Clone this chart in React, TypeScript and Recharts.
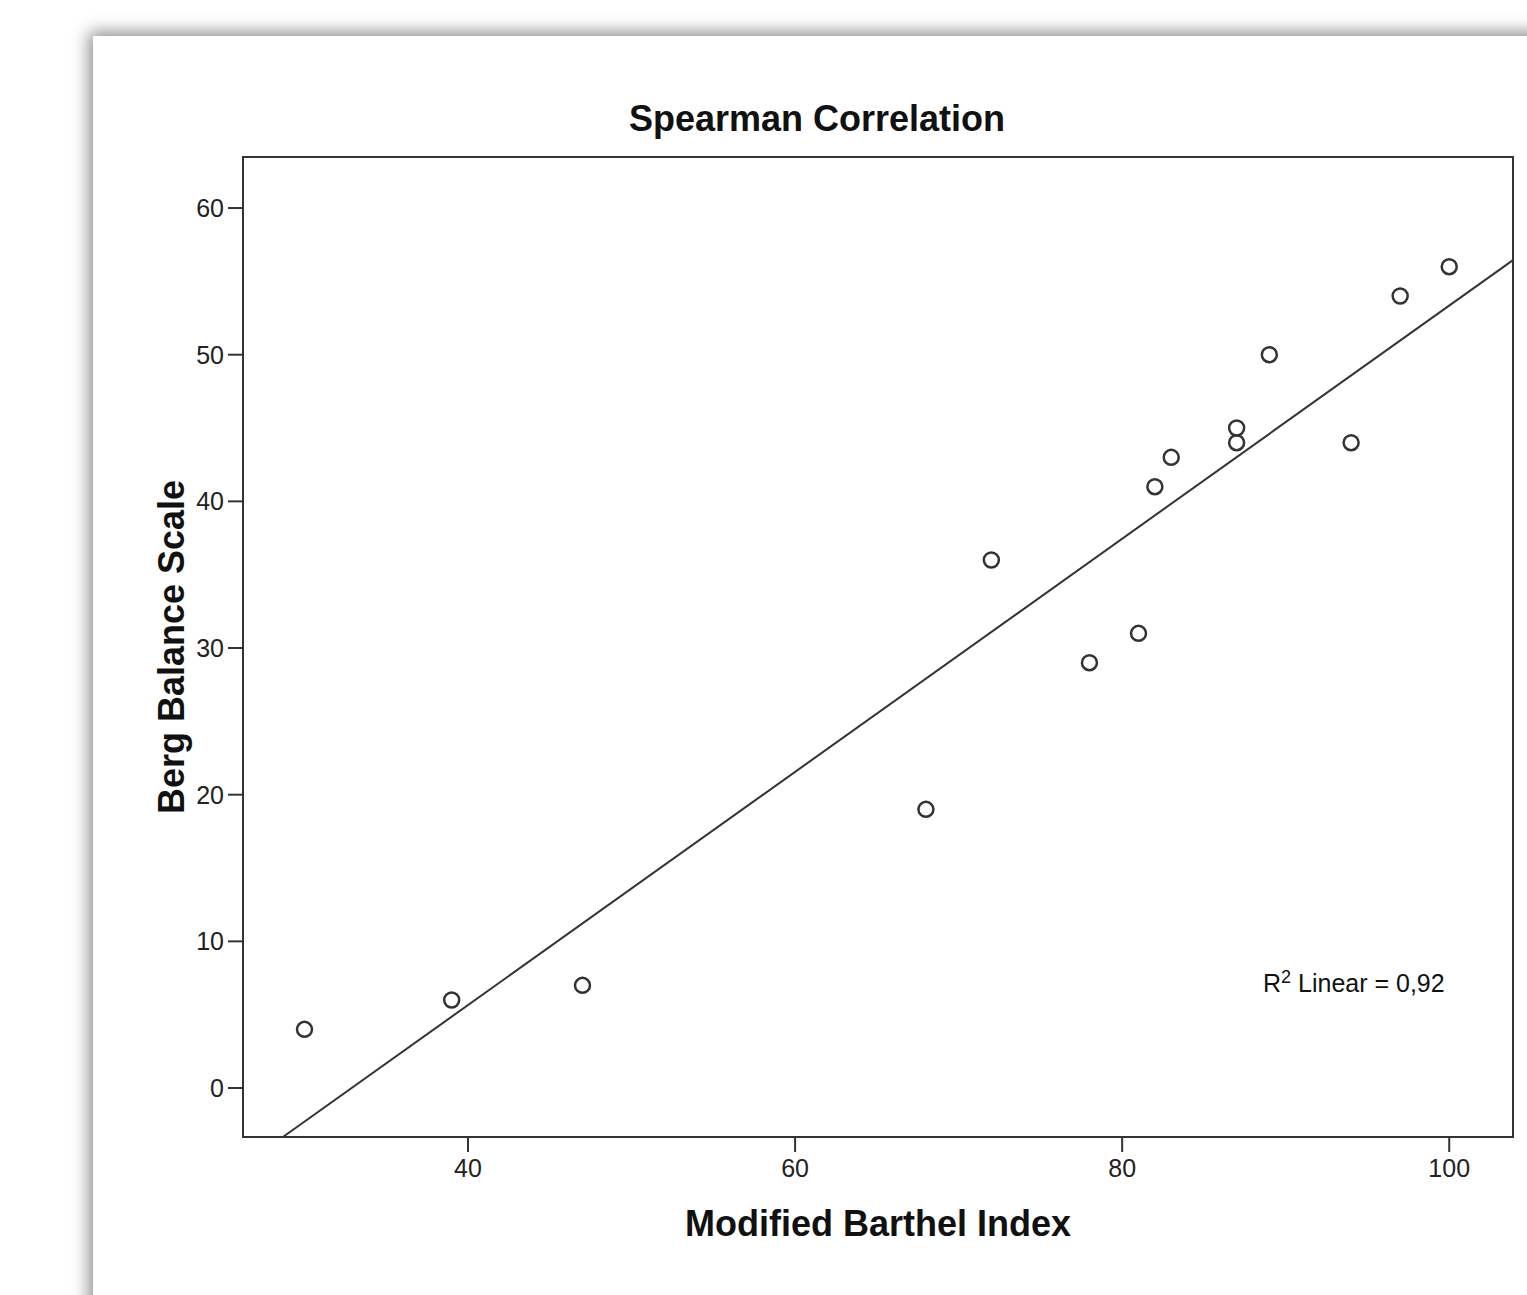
import React from 'react';
import { ScatterChart, Scatter, XAxis, YAxis, ReferenceLine, ReferenceArea, Label } from 'recharts';

// Modified Barthel Index vs Berg Balance Scale, one entry per patient
const barthel = [30, 39, 47, 68, 72, 78, 81, 82, 83, 87, 87, 89, 94, 97, 100];
const berg = [4, 6, 7, 19, 36, 29, 31, 41, 43, 45, 44, 50, 44, 54, 56];

const xTicks = [40, 60, 80, 100];
const yTicks = [0, 10, 20, 30, 40, 50, 60];
const xDomain = [26.24, 103.9];
const yDomain = [-3.34, 63.48];

// fit line ends (R2 linear = 0,92)
const fitLine = [
  { x: 28.68, y: -3.34 },
  { x: 103.9, y: 56.45 },
];

const FONT = '"Liberation Sans", Arial, sans-serif';
const INK = '#333';

const points = barthel.map((b, i) => ({ x: b, y: berg[i] }));

const Ring = (props: any) => {
  const { cx, cy } = props;
  return <circle cx={cx} cy={cy} r={7.5} fill="none" stroke={INK} strokeWidth={2.5} />;
};

const titleStyle = { fontFamily: FONT, fontWeight: 'bold', fontSize: 36, fill: '#111' };
const tickStyle = { fill: '#222', fontSize: 25, fontFamily: FONT };

const App: React.FC = () => {
  return (
    <div style={{ position: 'absolute', left: 0, top: 0, width: 1527, height: 1295, overflow: 'hidden', background: '#fff' }}>
      <div
        style={{
          position: 'absolute',
          left: 93,
          top: 36,
          width: 1600,
          height: 1400,
          background: '#fff',
          boxShadow: '-4px -4px 16px rgba(0,0,0,0.45)',
        }}
      />
      <div
        style={{
          position: 'absolute',
          left: 0,
          width: 1634,
          top: 101,
          textAlign: 'center',
          fontFamily: FONT,
          fontWeight: 'bold',
          fontSize: 36,
          color: '#111',
          lineHeight: '36px',
        }}
      >
        Spearman Correlation
      </div>
      <div style={{ position: 'absolute', left: 0, top: 0 }}>
        <ScatterChart width={1527} height={1295} margin={{ top: 157, right: 14, bottom: 0, left: 0 }}>
          <XAxis
            type="number"
            dataKey="x"
            domain={xDomain}
            ticks={xTicks}
            allowDataOverflow
            height={158}
            tickSize={15}
            tickMargin={7}
            axisLine={{ stroke: INK, strokeWidth: 2 }}
            tickLine={{ stroke: INK, strokeWidth: 2 }}
            tick={tickStyle}
          >
            <Label value="Modified Barthel Index" position="center" dy={7} style={titleStyle} />
          </XAxis>
          <YAxis
            type="number"
            dataKey="y"
            domain={yDomain}
            ticks={yTicks}
            allowDataOverflow
            width={243}
            tickSize={15}
            tickMargin={4}
            axisLine={{ stroke: INK, strokeWidth: 2 }}
            tickLine={{ stroke: INK, strokeWidth: 2 }}
            tick={tickStyle}
          >
            <Label value="Berg Balance Scale" position="center" angle={-90} dx={50} style={titleStyle} />
          </YAxis>
          <ReferenceArea
            x1={xDomain[0]}
            x2={xDomain[1]}
            y1={yDomain[0]}
            y2={yDomain[1]}
            fill="none"
            fillOpacity={0}
            stroke={INK}
            strokeWidth={2}
            ifOverflow="visible"
          />
          <ReferenceLine segment={fitLine} stroke={INK} strokeWidth={2} ifOverflow="visible" />
          <Scatter data={points} shape={<Ring />} isAnimationActive={false} />
        </ScatterChart>
      </div>
      <div
        style={{
          position: 'absolute',
          left: 1263,
          top: 968,
          fontFamily: FONT,
          fontSize: 25,
          color: '#111',
          lineHeight: '30px',
          whiteSpace: 'nowrap',
        }}
      >
        R<span style={{ fontSize: 18, verticalAlign: 'top', position: 'relative', top: -6 }}>2</span> Linear = 0,92
      </div>
    </div>
  );
};

export default App;
